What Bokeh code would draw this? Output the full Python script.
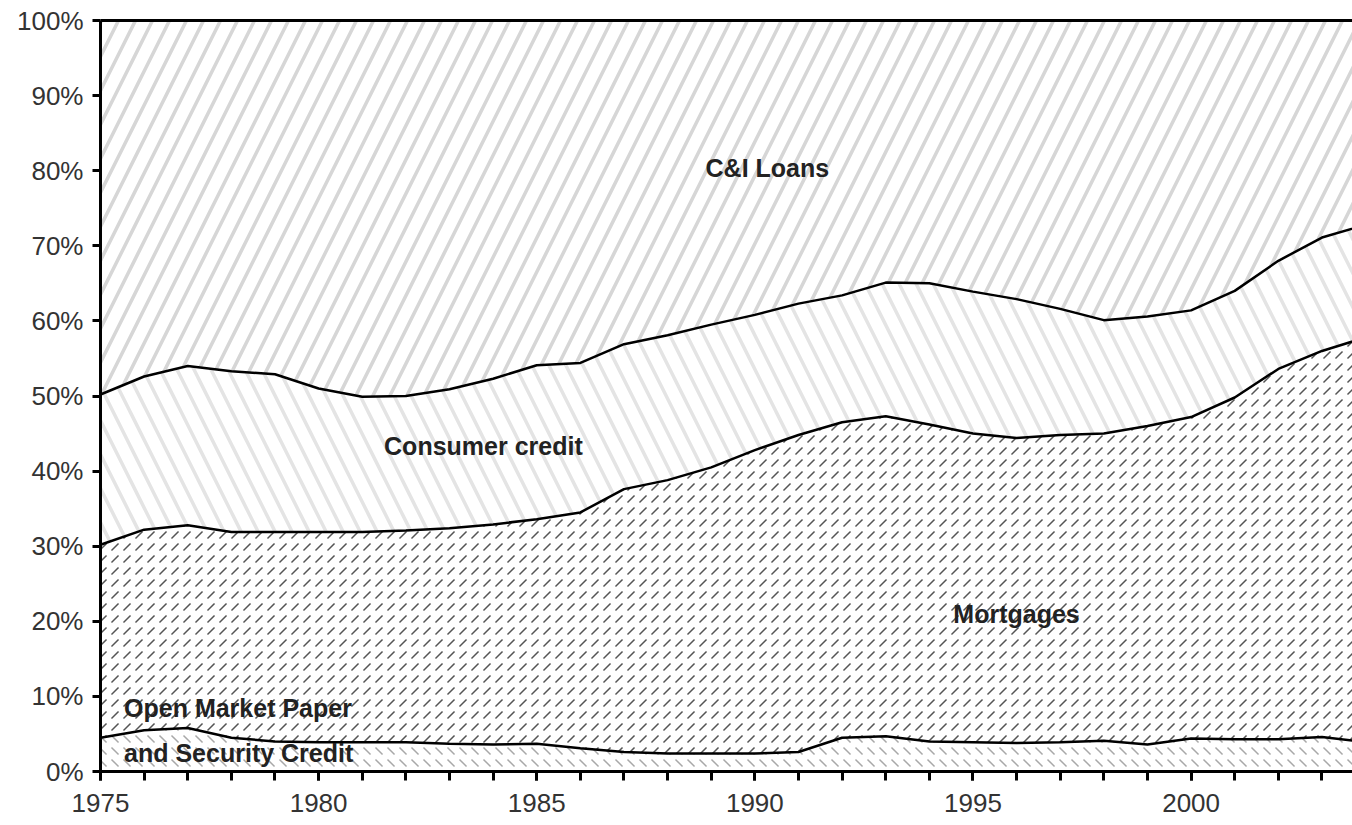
from bokeh.plotting import figure
from bokeh.models import (ColumnDataSource, LinearAxis, SingleIntervalTicker, FixedTicker,
                          Range1d, Label, PrintfTickFormatter)
from bokeh.embed import file_html
from bokeh.resources import INLINE

# ---- data (shares of total, %) ----
years = list(range(1975, 2005))
open_market = [4.5, 5.5, 5.8, 4.5, 4.0, 3.9, 3.9, 3.9, 3.7, 3.6, 3.7, 3.1, 2.6, 2.4, 2.4,
               2.4, 2.6, 4.5, 4.7, 4.0, 3.9, 3.8, 3.9, 4.1, 3.6, 4.4, 4.3, 4.3, 4.6, 3.9]
mortgages = [25.7, 26.7, 27.0, 27.4, 27.9, 28.0, 28.0, 28.2, 28.7, 29.3, 29.9, 31.4, 35.0, 36.4, 38.1,
             40.4, 42.2, 42.0, 42.6, 42.2, 41.1, 40.6, 40.9, 40.9, 42.4, 42.8, 45.5, 49.3, 51.4, 53.9]
consumer = [20.0, 20.4, 21.2, 21.4, 21.0, 19.1, 18.0, 17.9, 18.5, 19.4, 20.5, 19.9, 19.3, 19.3, 19.0,
            18.0, 17.5, 16.9, 17.8, 18.8, 18.9, 18.5, 16.8, 15.1, 14.6, 14.2, 14.2, 14.4, 15.1, 15.0]
ci_loans = [49.8, 47.4, 46.0, 46.7, 47.1, 49.0, 50.1, 50.0, 49.1, 47.7, 45.9, 45.6, 43.1, 41.9, 40.5,
            39.2, 37.7, 36.6, 34.9, 35.0, 36.1, 37.1, 38.4, 39.9, 39.4, 38.6, 36.0, 32.0, 28.9, 27.2]

series = ["open_market", "mortgages", "consumer", "ci_loans"]

src = ColumnDataSource(dict(year=years, open_market=open_market, mortgages=mortgages,
                            consumer=consumer, ci_loans=ci_loans))

p = figure(width=1352, height=825, x_range=Range1d(1975, 2003.7), y_range=Range1d(0, 100),
           output_backend="svg", toolbar_location=None,
           min_border_left=100, min_border_right=0, min_border_top=20, min_border_bottom=54,
           background_fill_color="white", border_fill_color="white")
p.outline_line_color = None
p.grid.visible = False

hatch_styles = [
    dict(hatch_pattern="`", hatch_color="#a8a8a8", hatch_weight=1.5, hatch_scale=12),
    dict(hatch_pattern=",", hatch_color="#555555", hatch_weight=1.5, hatch_scale=12),
    dict(hatch_pattern="\\", hatch_color="#e4e4e4", hatch_weight=3.5, hatch_scale=34),
    dict(hatch_pattern="/", hatch_color="#d6d6d6", hatch_weight=3.5, hatch_scale=34),
]
renderers = p.varea_stack(series, x="year", source=src, fill_color="white")
for r, hs in zip(renderers, hatch_styles):
    for k, v in hs.items():
        setattr(r.glyph, k, v)

p.vline_stack(series[:3], x="year", source=src, line_color="black", line_width=2.5)

TICK_FONT = "Liberation Sans"
xa = p.xaxis[0]
xa.ticker = SingleIntervalTicker(interval=5, num_minor_ticks=5)
xa.axis_line_width = 3
xa.major_tick_line_width = 3
xa.minor_tick_line_width = 3
xa.major_tick_out = 9
xa.major_tick_in = 0
xa.minor_tick_out = 9
xa.minor_tick_in = 0
xa.major_label_text_font = TICK_FONT
xa.major_label_text_font_size = "26px"
xa.major_label_text_color = "#333333"
xa.major_label_standoff = 13

ya = p.yaxis[0]
ya.ticker = SingleIntervalTicker(interval=10, num_minor_ticks=0)
ya.formatter = PrintfTickFormatter(format="%d%%")
ya.axis_line_width = 3
ya.major_tick_line_width = 3
ya.major_tick_out = 8
ya.major_tick_in = 0
ya.minor_tick_out = 0
ya.major_label_text_font = TICK_FONT
ya.major_label_text_font_size = "26px"
ya.major_label_text_color = "#333333"
ya.major_label_standoff = 9

top = LinearAxis(ticker=FixedTicker(ticks=[]), axis_line_width=3, major_tick_out=0,
                 major_tick_in=0, minor_tick_out=0, minor_tick_in=0,
                 major_label_text_font_size="0px")
p.add_layout(top, "above")

label_pos = [
    (1975.54, 8.5, "Open Market Paper"),
    (1975.54, 2.5, "and Security Credit"),
    (1994.55, 21.0, "Mortgages"),
    (1981.5, 43.3, "Consumer credit"),
    (1988.87, 80.4, "C&I Loans"),
]
for x, y, t in label_pos:
    p.add_layout(Label(x=x, y=y, text=t, text_font=TICK_FONT, text_font_style="bold",
                       text_font_size="25px", text_color="#222222",
                       text_align="left", text_baseline="middle"))

open("out.html", "w").write(file_html(p, INLINE))
